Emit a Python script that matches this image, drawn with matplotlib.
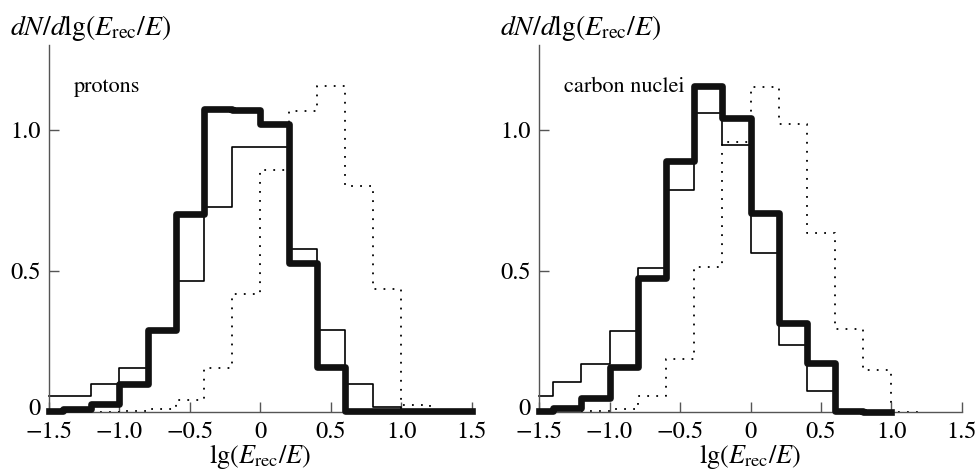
import matplotlib
matplotlib.use("Agg")
import matplotlib.pyplot as plt
import matplotlib.transforms as mtrans
import numpy as np

plt.rcParams['font.family'] = ['STIXGeneral', 'DejaVu Serif']
plt.rcParams['mathtext.fontset'] = 'stix'

# bin edges, 0.2 wide, cut at the axis limits
edges = [-1.5, -1.4, -1.2, -1.0, -0.8, -0.6, -0.4, -0.2, 0.0,
         0.2, 0.4, 0.6, 0.8, 1.0, 1.2, 1.4, 1.5]
nan = np.nan

# protons
p_thick = [0.004, 0.012, 0.03, 0.10, 0.29, 0.70, 1.075, 1.07, 1.02,
           0.53, 0.16, 0.003, 0.003, 0.003, 0.003, 0.003]
p_thin = [0.057, 0.057, 0.10, 0.158, 0.29, 0.465, 0.728, 0.94, 0.94,
          0.578, 0.29, 0.10, 0.02, 0.004, nan, nan]
p_dot = [nan, nan, 0.002, 0.004, 0.01, 0.044, 0.156, 0.42, 0.856,
         1.065, 1.156, 0.80, 0.435, 0.026, 0.003, nan]

# carbon nuclei
c_thick = [0.003, 0.014, 0.05, 0.16, 0.476, 0.888, 1.156, 1.04, 0.705,
           0.317, 0.173, 0.004, 0.002, nan, nan, nan]
c_thin = [0.059, 0.108, 0.17, 0.288, 0.51, 0.787, 1.06, 0.947, 0.563,
          0.238, 0.076, 0.003, nan, nan, nan, nan]
c_dot = [nan, nan, 0.004, 0.01, 0.059, 0.189, 0.515, 0.955, 1.151,
         1.021, 0.636, 0.294, 0.15, 0.0, nan, nan]

panels = [("protons", p_thick, p_thin, p_dot),
          ("carbon nuclei", c_thick, c_thin, c_dot)]

xticks = [-1.5, -1.0, -0.5, 0, 0.5, 1.0, 1.5]
xticklabels = ["\u22121.5", "\u22121.0", "\u22120.5", "0", "0.5", "1.0", "1.5"]
yticks = [0, 0.5, 1.0]
yticklabels = ["0", "0.5", "1.0"]


def steps(vals):
    x = np.repeat(edges, 2)[1:-1]
    y = np.repeat(np.array(vals, dtype=float), 2)
    return x, y


fig = plt.figure(figsize=(9.79, 4.71), dpi=100)
axcol = '#555555'
lefts = [0.050, 0.5506]

for left, (name, thick, thin, dot) in zip(lefts, panels):
    ax = fig.add_axes([left, 0.1246, 0.432, 0.780])
    x, y = steps(dot)
    ax.plot(x, y, color='black', lw=1.3, linestyle=(0, (1, 4)), clip_on=False)
    x, y = steps(thin)
    ax.plot(x, y, color='black', lw=1.2, clip_on=False)
    x, y = steps(thick)
    ax.plot(x, y, color='#111111', lw=4.8, clip_on=False, zorder=3)

    ax.set_xlim(-1.5, 1.5)
    ax.set_ylim(0, 1.3)
    for s in ['top', 'right']:
        ax.spines[s].set_visible(False)
    for s in ['left', 'bottom']:
        ax.spines[s].set_color(axcol)
        ax.spines[s].set_linewidth(1.0)
    ax.set_xticks(xticks)
    ax.set_xticklabels(xticklabels)
    ax.set_yticks(yticks)
    ax.set_yticklabels(yticklabels)
    ax.tick_params(direction='in', length=7, width=1.0, color=axcol,
                   labelsize=17.5)
    ax.tick_params(axis='x', pad=7)
    ax.tick_params(axis='y', pad=6)
    ax.yaxis.get_major_ticks()[0].tick1line.set_visible(False)
    # lift the "0" a little so it clears the x tick labels
    lab0 = ax.get_yticklabels()[0]
    lab0.set_transform(lab0.get_transform() +
                       mtrans.ScaledTranslation(0, 4 / 72, fig.dpi_scale_trans))
    ax.text(0.058, 0.885, name, transform=ax.transAxes, fontsize=16,
            va='center', ha='left')
    ax.set_xlabel(r'$\mathrm{lg}(E_{\mathrm{rec}}/E)$', fontsize=19, labelpad=-1)
    fig.text(left - 0.040, 0.94, r'$dN/d\mathrm{lg}(E_{\mathrm{rec}}/E)$',
             fontsize=20, va='center', ha='left')

fig.savefig("out.png", dpi=100)
